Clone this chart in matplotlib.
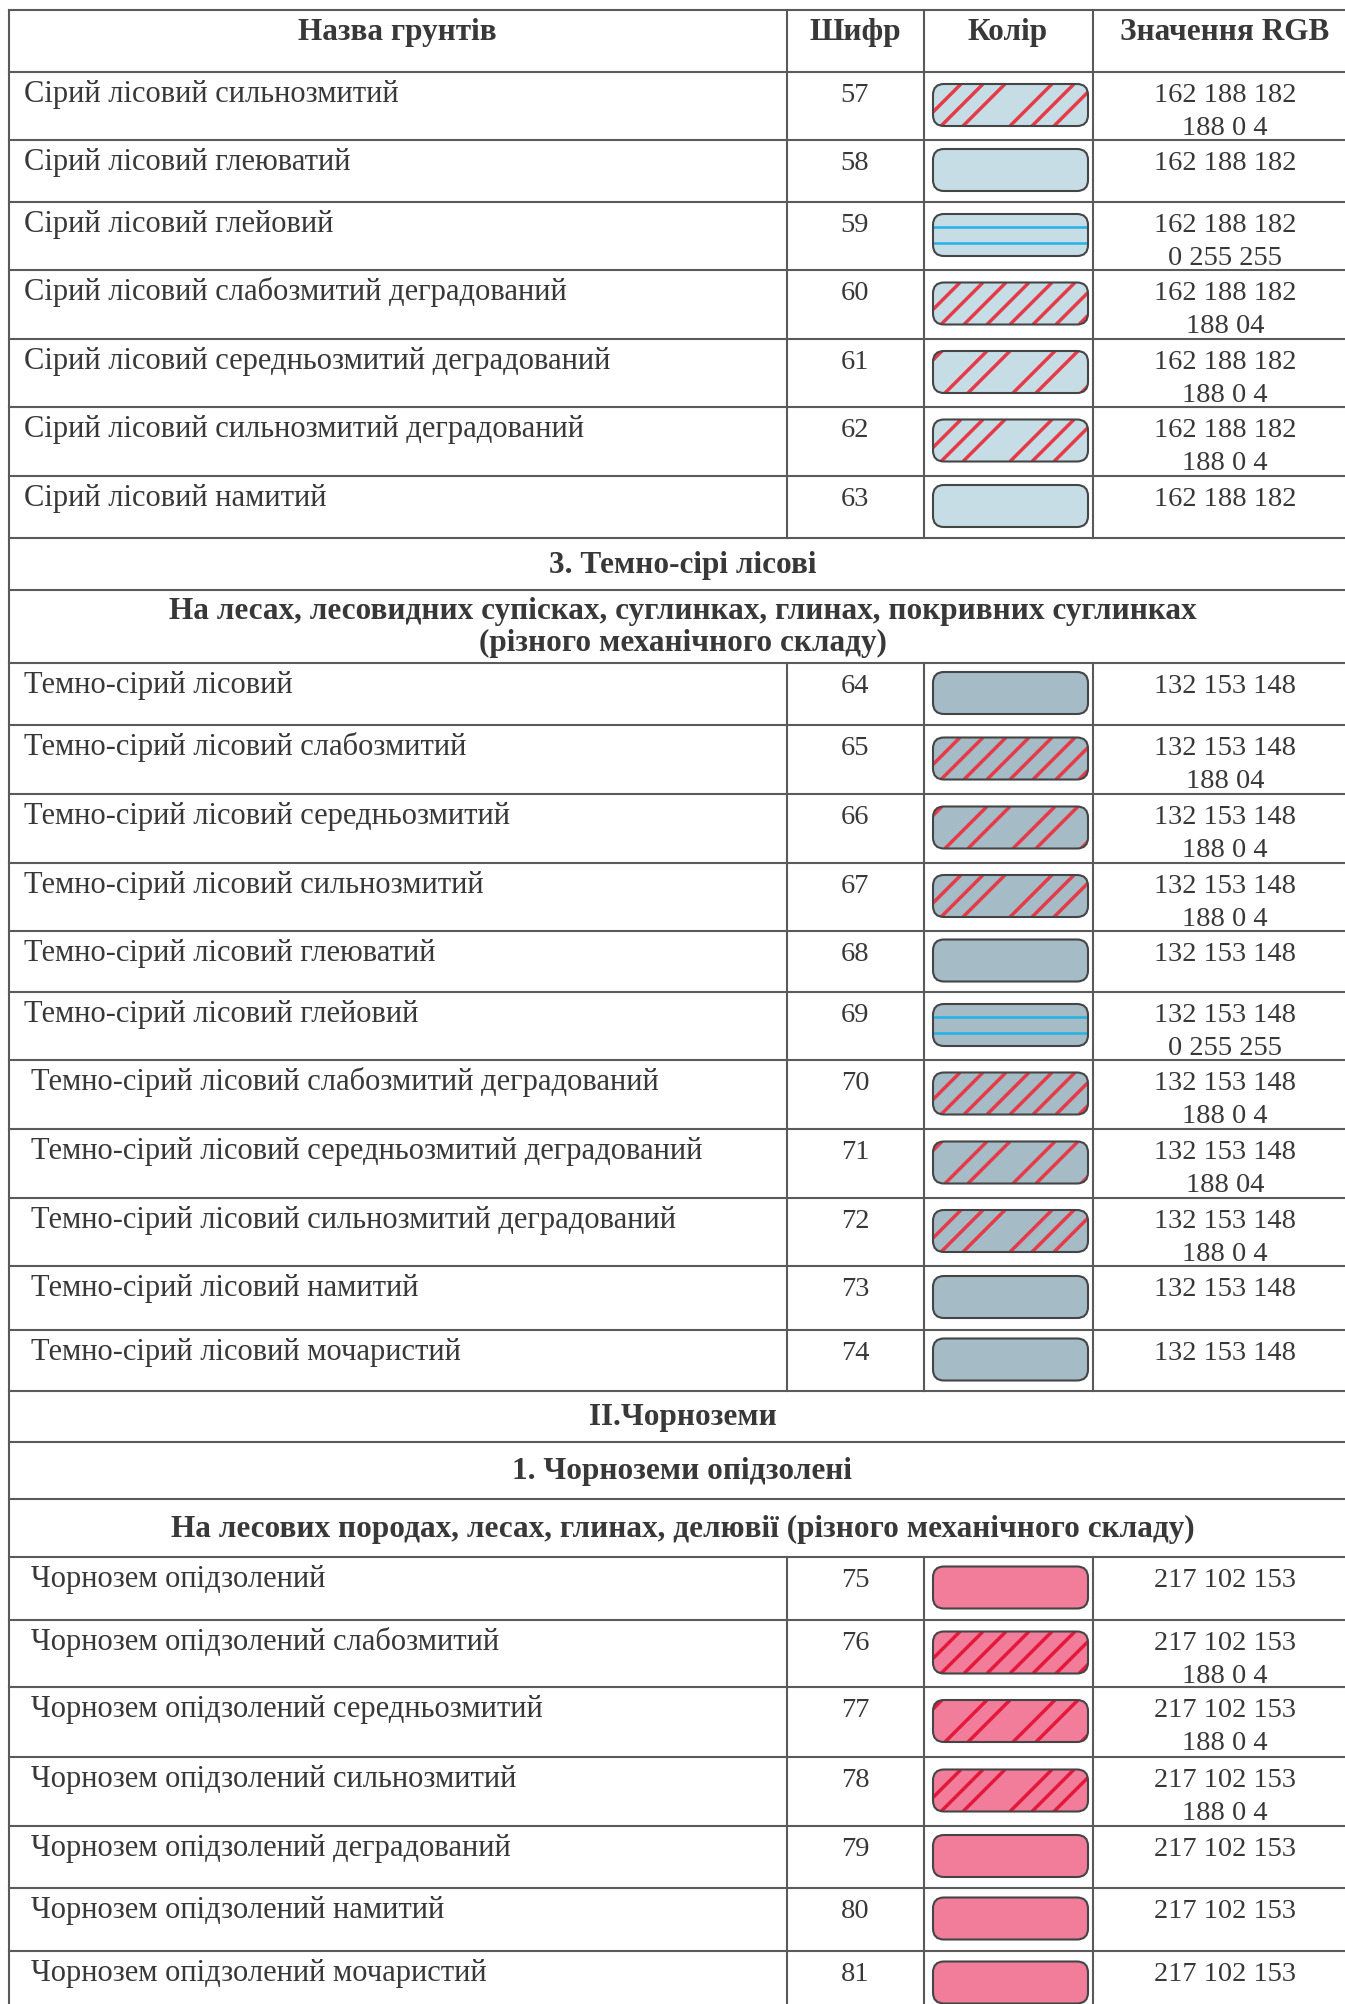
import numpy as np
import matplotlib
matplotlib.use("Agg")
from matplotlib import pyplot as plt
from matplotlib.patches import FancyBboxPatch

# ---- table content -------------------------------------------------------
header = ["Назва грунтів", "Шифр", "Колір", "Значення RGB"]

codes = [57, 58, 59, 60, 61, 62, 63,
         64, 65, 66, 67, 68, 69, 70, 71, 72, 73, 74,
         75, 76, 77, 78, 79, 80, 81]

names = [
    "Сірий лісовий сильнозмитий",
    "Сірий лісовий глеюватий",
    "Сірий лісовий глейовий",
    "Сірий лісовий слабозмитий деградований",
    "Сірий лісовий середньозмитий деградований",
    "Сірий лісовий сильнозмитий деградований",
    "Сірий лісовий намитий",
    "Темно-сірий лісовий",
    "Темно-сірий лісовий слабозмитий",
    "Темно-сірий лісовий середньозмитий",
    "Темно-сірий лісовий сильнозмитий",
    "Темно-сірий лісовий глеюватий",
    "Темно-сірий лісовий глейовий",
    "Темно-сірий лісовий слабозмитий деградований",
    "Темно-сірий лісовий середньозмитий деградований",
    "Темно-сірий лісовий сильнозмитий деградований",
    "Темно-сірий лісовий намитий",
    "Темно-сірий лісовий мочаристий",
    "Чорнозем опідзолений",
    "Чорнозем опідзолений слабозмитий",
    "Чорнозем опідзолений середньозмитий",
    "Чорнозем опідзолений сильнозмитий",
    "Чорнозем опідзолений деградований",
    "Чорнозем опідзолений намитий",
    "Чорнозем опідзолений мочаристий",
]

rgb_main = (["162 188 182"] * 7 + ["132 153 148"] * 11 + ["217 102 153"] * 7)

rgb_extra = ["188 0 4", "", "0 255 255", "188 04", "188 0 4", "188 0 4", "",
             "", "188 04", "188 0 4", "188 0 4", "", "0 255 255", "188 0 4",
             "188 04", "188 0 4", "", "",
             "", "188 0 4", "188 0 4", "188 0 4", "", "", ""]

# fill group and overprint kind of each swatch
fill_group = ["grey"] * 7 + ["dark"] * 11 + ["pink"] * 7
overprint = ["strong", "plain", "gley", "weak", "medium", "strong", "plain",
             "plain", "weak", "medium", "strong", "plain", "gley", "weak",
             "medium", "strong", "plain", "plain",
             "plain", "weak", "medium", "strong", "plain", "plain", "plain"]

# section titles, keyed by the index of the soil row they precede
sections = {
    7: ["3. Темно-сірі лісові",
        "На лесах, лесовидних супісках, суглинках, глинах, покривних суглинках\n"
        "(різного механічного складу)"],
    18: ["II.Чорноземи",
         "1. Чорноземи опідзолені",
         "На лесових породах, лесах, глинах, делювії (різного механічного складу)"],
}

# ---- layout / style ------------------------------------------------------
W, H = 1345, 2004
row_edges = [10, 72, 140, 202, 270, 339, 407, 476, 538, 590, 663, 725, 794,
             863, 931, 992, 1060, 1129, 1198, 1266, 1330, 1391, 1442, 1499,
             1557, 1620, 1687, 1757, 1826, 1888, 1951, 2016]
col_x = [9, 787, 924, 1093]
col_center = [397, 855, 1008, 1225]

fills = {"grey": "#c6dde6", "dark": "#a5bbc5", "pink": "#f17d9b"}
hatch_colors = {"grey": "#e63a48", "dark": "#e63a48", "pink": "#e3183a"}
gley_color = "#22b2e6"
# (first offset, offsets in a group, period) along the swatch bottom edge
patterns = {"weak": (8, [0], 23),
            "medium": (12, [0, 23], 68),
            "strong": (-14, [0, 22, 44], 91)}

text_color = "#383838"
line_color = "#5a5a5a"
FONT = "Liberation Serif"
FS_NAME = 22
FS_NUM = 20.5
FS_BOLD = 22.5
SW_X, SW_W, SW_H = 933, 155, 42


def draw_swatch(ax, top, bottom, group, kind):
    y = (top + bottom) / 2 - SW_H / 2 - 1
    box = FancyBboxPatch((SW_X, y), SW_W, SW_H,
                         boxstyle="round,pad=0,rounding_size=11",
                         fc=fills[group], ec="none", zorder=2)
    ax.add_patch(box)
    if kind in patterns:
        phase, offsets, period = patterns[kind]
        for start in np.arange(phase - 2 * period, SW_W + period, period):
            for o in offsets:
                xb = SW_X + start + o
                ln, = ax.plot([xb, xb + SW_H], [y + SW_H, y],
                              color=hatch_colors[group], lw=2.5,
                              solid_capstyle="butt", zorder=3)
                ln.set_clip_path(box)
    elif kind == "gley":
        for f in (0.32, 0.68):
            ln, = ax.plot([SW_X, SW_X + SW_W], [y + f * SW_H] * 2,
                          color=gley_color, lw=1.8, zorder=3)
            ln.set_clip_path(box)
    ax.add_patch(FancyBboxPatch((SW_X, y), SW_W, SW_H,
                                boxstyle="round,pad=0,rounding_size=11",
                                fc="none", ec="#454545", lw=1.5, zorder=4))


fig = plt.figure(figsize=(W / 100, H / 100), dpi=100)
ax = fig.add_axes([0, 0, 1, 1])
ax.set_xlim(0, W)
ax.set_ylim(H, 0)
ax.axis("off")

txt = dict(color=text_color, family=FONT)

# header row
for c, label in enumerate(header):
    ax.text(col_center[c], row_edges[0] + 30, label, ha="center", va="baseline",
            fontweight="bold", fontsize=FS_BOLD, **txt)
spans = [(row_edges[0], row_edges[1])]
r = 1

for i, code in enumerate(codes):
    for title in sections.get(i, []):
        top, bottom = row_edges[r], row_edges[r + 1]
        ax.text(W / 2 + 10, (top + bottom) / 2 + 1, title, ha="center",
                va="center", fontweight="bold", fontsize=FS_BOLD,
                linespacing=1.12, **txt)
        r += 1
    top, bottom = row_edges[r], row_edges[r + 1]
    base = top + 30
    indent = 24 if i < 13 else 31
    ax.text(indent, base, names[i], ha="left", va="baseline",
            fontsize=FS_NAME, **txt)
    ax.text(col_center[1], base, str(code), ha="center", va="baseline",
            fontsize=FS_NUM, **txt)
    ax.text(col_center[3], base, rgb_main[i], ha="center", va="baseline",
            fontsize=FS_NUM, **txt)
    if rgb_extra[i]:
        ax.text(col_center[3], base + 33, rgb_extra[i], ha="center",
                va="baseline", fontsize=FS_NUM, **txt)
    draw_swatch(ax, top, bottom, fill_group[i], overprint[i])
    spans.append((top, bottom))
    r += 1

# grid lines
for yy in row_edges[:-1]:
    ax.plot([col_x[0], W], [yy, yy], color=line_color, lw=1.5, zorder=1)
ax.plot([col_x[0]] * 2, [row_edges[0], row_edges[-1]], color=line_color,
        lw=1.5, zorder=1)
for top, bottom in spans:
    for xx in col_x[1:]:
        ax.plot([xx, xx], [top, bottom], color=line_color, lw=1.5, zorder=1)

fig.savefig("out.png", dpi=100, facecolor="white")
